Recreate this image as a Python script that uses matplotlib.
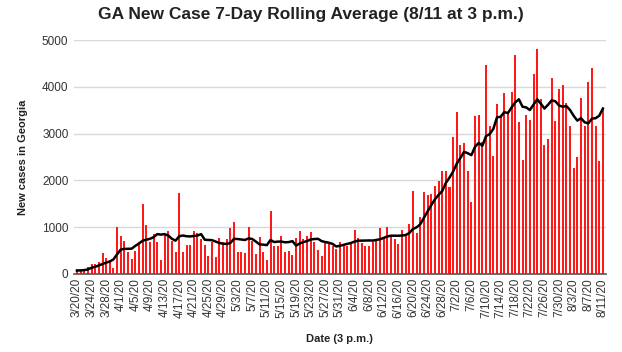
import numpy as np
import pandas as pd
import matplotlib
matplotlib.use("Agg")
import matplotlib.pyplot as plt

plt.rcParams['font.family'] = ['Liberation Sans', 'DejaVu Sans']

# daily new cases, 3/20/20 .. 8/11/20
new_cases = [
    100, 90, 60, 150, 220, 210, 250, 450, 340, 300,
    130, 1000, 820, 700, 470, 320, 480, 690, 1500, 1050,
    690, 850, 690, 300, 850, 910, 710, 460, 1730, 460,
    625, 625, 910, 870, 735, 625, 375, 675, 350, 760,
    675, 745, 980, 1100, 460, 470, 450, 1000, 700, 425,
    780, 460, 300, 1345, 600, 600, 805, 460, 480, 410,
    760, 910, 745, 800, 900, 690, 510, 375, 675, 655,
    600, 530, 690, 593, 593, 642, 937, 768, 663, 593,
    593, 691, 712, 979, 761, 993, 832, 747, 642, 937,
    832, 1077, 1779, 874, 1225, 1744, 1697, 1699, 1888, 1994,
    2211, 2190, 1853, 2926, 3467, 2765, 2807, 2190, 1537, 3383,
    3405, 2820, 4471, 3172, 2520, 3630, 3348, 3861, 3419, 3895,
    4682, 3242, 2436, 3405, 3299, 4274, 4807, 3737, 2752, 2878,
    4190, 3263, 3944, 4050, 3650, 3158, 2261, 2506, 3756, 3172,
    4106, 4414, 3158, 2421, 3545,
]

# 7-day rolling average line as drawn on the chart
rolling_avg = [
    70, 75, 80, 95, 130, 150, 180, 210, 240, 265,
    310, 420, 520, 535, 535, 540, 600, 650, 710, 730,
    750, 785, 850, 840, 850, 820, 750, 710, 805, 820,
    805, 800, 810, 820, 850, 730, 725, 720, 690, 660,
    645, 640, 660, 750, 745, 735, 725, 760, 745, 690,
    630, 625, 615, 725, 680, 690, 690, 675, 680, 700,
    605, 650, 680, 700, 735, 745, 750, 700, 680, 665,
    640, 585, 600, 620, 640, 660, 690, 710, 710, 712,
    715, 712, 725, 740, 770, 800, 817, 817, 815, 820,
    830, 874, 960, 995, 1060, 1200, 1335, 1470, 1594, 1690,
    1770, 1945, 2060, 2190, 2360, 2480, 2611, 2580, 2540, 2720,
    2800, 2740, 2947, 2990, 3100, 3348, 3360, 3460, 3440, 3560,
    3670, 3734, 3575, 3560, 3505, 3620, 3734, 3640, 3537, 3620,
    3713, 3690, 3600, 3575, 3590, 3505, 3380, 3278, 3330, 3242,
    3220, 3320, 3330, 3383, 3537,
]

dates = pd.date_range("2020-03-20", "2020-08-11", freq="D")
labels = [f"{d.month}/{d.day}/20" for d in dates]

fig = plt.figure(figsize=(6.22, 3.52), dpi=100)
ax = fig.add_axes([0.119, 0.222, 0.855, 0.664])

x = np.arange(len(new_cases))
ax.bar(x, new_cases, width=0.55, color="#ff1a1a", edgecolor="#ff1a1a", linewidth=0, zorder=2)
ax.plot(x, rolling_avg, color="black", linewidth=1.8, zorder=3)

ax.set_xlim(-0.8, len(new_cases) - 0.2)
ax.set_ylim(0, 5000)
ax.set_yticks([0, 1000, 2000, 3000, 4000, 5000])
ax.set_xticks(x[::4])
ax.set_xticklabels(labels[::4], rotation=90, fontsize=8.5, color="#333333")
ax.tick_params(axis="y", labelsize=8.5, labelcolor="#333333", length=0, pad=4)
ax.tick_params(axis="x", length=0, pad=3)

ax.grid(axis="y", color="#d9d9d9", linewidth=1, zorder=0)
for s in ["top", "right", "left"]:
    ax.spines[s].set_visible(False)
ax.spines["bottom"].set_color("#555555")
ax.spines["bottom"].set_linewidth(1.2)
ax.set_axisbelow(True)

ax.set_ylabel("New cases in Georgia", fontsize=8, fontweight="bold", color="#222222", labelpad=10)
ax.set_xlabel("Date (3 p.m.)", fontsize=8, fontweight="bold", color="#222222", labelpad=12)
fig.suptitle("GA New Case 7-Day Rolling Average (8/11 at 3 p.m.)", fontsize=12.5,
             fontweight="bold", color="#222222", x=0.5, y=0.98)

fig.savefig("out.png", dpi=100)
